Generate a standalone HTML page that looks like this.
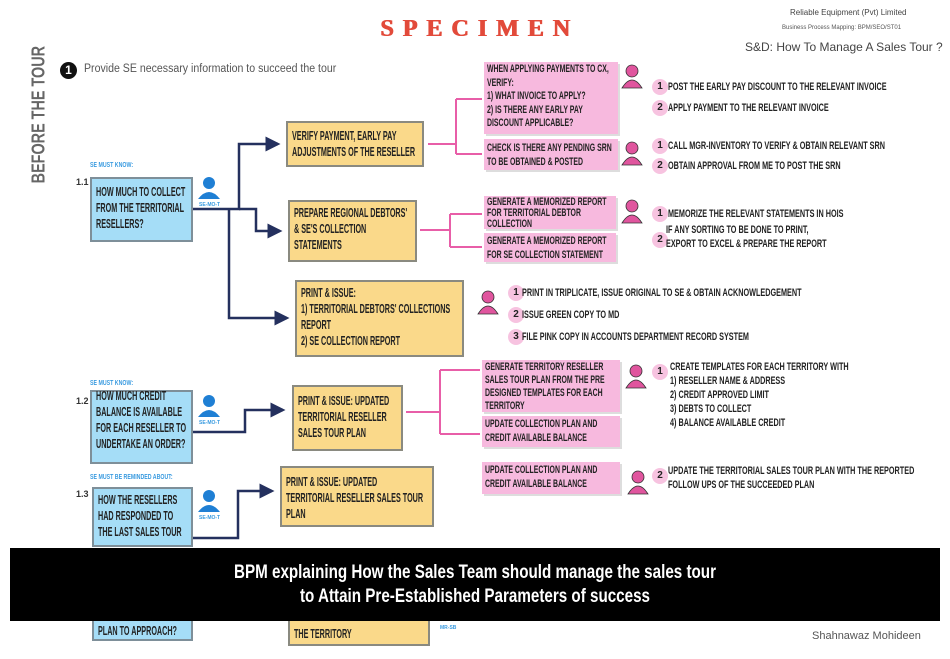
<!DOCTYPE html>
<html><head><meta charset="utf-8"><style>
body{margin:0;width:950px;height:659px;background:#fff;position:relative;overflow:hidden;font-family:"Liberation Sans",sans-serif}
.a{position:absolute}
.t{font-weight:bold;color:#222;font-size:11px;line-height:14px;text-transform:uppercase}
.n{width:180%;transform:scaleX(.555);transform-origin:left top}
.pink .n{width:158%;transform:scaleX(.63)}
.s{white-space:nowrap;transform:scaleX(.66);transform-origin:left top}
.blue{background:#a5ddf7;border:2px solid #7e8f99;box-sizing:border-box;padding:6px 4px}
.yel{background:#fad98a;border:2px solid #8a8a80;box-sizing:border-box;padding:6px 4px}
.pink{background:#f7b9de;box-sizing:border-box;padding:1px 3px;box-shadow:2px 2px 0 #ddd}
.c{width:16px;height:16px;border-radius:50%;background:#f7c3e0;font-size:10px;font-weight:bold;text-align:center;line-height:16px;color:#222}
.lbl{font-size:5px;color:#3a9be0;font-weight:bold}
.st{font-size:7px;color:#3a9be0;font-weight:bold;white-space:nowrap;transform:scaleX(.75);transform-origin:left top}
.big{line-height:16px;font-size:13px}
</style></head><body>
<div class="a" style="left:380px;top:16px;font-family:'Liberation Serif',serif;font-size:24px;font-weight:bold;color:#e24a3a;letter-spacing:9px;text-shadow:1px 0 #e24a3a">SPECIMEN</div>
<div class="a" style="left:790px;top:8px;font-size:8px;color:#444">Reliable Equipment (Pvt) Limited</div>
<div class="a" style="left:782px;top:25px;font-size:6px;color:#555">Business Process Mapping: BPM/SEO/ST01</div>
<div class="a" style="left:745px;top:40px;font-size:12px;color:#444;white-space:nowrap">S&amp;D: How To Manage A Sales Tour ?</div>
<div class="a" style="left:-36px;top:115px;width:150px;transform:rotate(-90deg);font-size:18px;font-weight:bold;color:#666;text-align:center;white-space:nowrap"><span style="display:inline-block;transform:scaleX(.8)">BEFORE THE TOUR</span></div>
<div class="a" style="left:60px;top:62px;width:17px;height:17px;border-radius:50%;background:#111;color:#fff;font-size:12px;font-weight:bold;text-align:center;line-height:17px">1</div>
<div class="a" style="left:84px;top:63px;font-size:11.5px;color:#555;white-space:nowrap;transform:scaleX(.92);transform-origin:left top">Provide SE necessary information to succeed the tour</div>

<svg class="a" style="left:0;top:0" width="950" height="659">
<defs><marker id="ar" markerWidth="6" markerHeight="6" refX="5" refY="3" orient="auto"><path d="M0,0L6,3L0,6z" fill="#24305e"/></marker></defs>
<g fill="none" stroke="#24305e" stroke-width="2.5">
<path d="M193,209H239V144H278" marker-end="url(#ar)"/>
<path d="M239,209H256V231H280" marker-end="url(#ar)"/>
<path d="M229,209V318H287" marker-end="url(#ar)"/>
<path d="M193,432H245V410H283" marker-end="url(#ar)"/>
<path d="M193,538H238V491H272" marker-end="url(#ar)"/>
</g>
<g fill="none" stroke="#e85ea8" stroke-width="2">
<path d="M428,144H456M456,99V154M456,99H482M456,154H482"/>
<path d="M420,230H450M450,214V247M450,214H482M450,247H482"/>
<path d="M406,412H440M440,370V434M440,370H480M440,434H480"/>
</g>
</svg>

<div class="a st" style="left:90px;top:162px">SE MUST KNOW:</div>
<div class="a" style="left:76px;top:177px;font-size:9px;font-weight:bold;color:#333">1.1</div>
<div class="a blue t big" style="left:90px;top:177px;width:103px;height:65px;padding-top:5px"><div class="n">How much to collect from the territorial resellers?</div></div>

<div class="a yel t big" style="left:286px;top:121px;width:138px;height:46px;padding-top:5px"><div class="n">Verify payment, early pay adjustments of the reseller</div></div>
<div class="a yel t big" style="left:288px;top:200px;width:129px;height:62px;padding-top:3px"><div class="n">Prepare regional debtors' &amp; SE's collection statements</div></div>
<div class="a yel t big" style="left:295px;top:280px;width:169px;height:77px;padding-top:3px"><div class="n">Print &amp; issue:<br>1) territorial debtors' collections report<br>2) SE collection report</div></div>

<div class="a pink t" style="left:484px;top:62px;width:134px;height:72px;line-height:13.5px"><div class="n">When applying payments to CX, verify:<br>1) what invoice to apply?<br>2) is there any early pay discount applicable?</div></div>
<div class="a pink t" style="left:484px;top:139px;width:134px;height:31px;padding-top:2px"><div class="n">Check is there any pending SRN to be obtained &amp; posted</div></div>
<div class="a pink t" style="left:484px;top:196px;width:132px;height:33px;line-height:11px"><div class="n">Generate a memorized report for territorial debtor collection</div></div>
<div class="a pink t" style="left:484px;top:233px;width:132px;height:29px"><div class="n">Generate a memorized report for SE collection statement</div></div>

<div class="a pink t" style="left:482px;top:360px;width:138px;height:52px;line-height:13px"><div class="n">Generate territory reseller sales tour plan from the pre designed templates for each territory</div></div>
<div class="a pink t" style="left:482px;top:416px;width:138px;height:31px"><div class="n">Update collection plan and credit available balance</div></div>
<div class="a pink t" style="left:482px;top:462px;width:138px;height:32px"><div class="n">Update collection plan and credit available balance</div></div>

<div class="a st" style="left:90px;top:380px">SE MUST KNOW:</div>
<div class="a" style="left:76px;top:396px;font-size:9px;font-weight:bold;color:#333">1.2</div>
<div class="a blue t big" style="left:90px;top:390px;width:103px;height:74px;padding-top:0"><div class="n" style="margin-top:-4px">How much credit balance is available for each reseller to undertake an order?</div></div>
<div class="a yel t big" style="left:292px;top:385px;width:111px;height:66px"><div class="n">Print &amp; issue: updated territorial reseller sales tour plan</div></div>

<div class="a st" style="left:90px;top:474px">SE MUST BE REMINDED ABOUT:</div>
<div class="a" style="left:76px;top:489px;font-size:9px;font-weight:bold;color:#333">1.3</div>
<div class="a blue t big" style="left:92px;top:487px;width:101px;height:60px;padding-top:3px"><div class="n">How the resellers had responded to the last sales tour</div></div>
<div class="a yel t big" style="left:280px;top:466px;width:154px;height:61px"><div class="n">Print &amp; issue: updated<br>territorial reseller sales tour plan</div></div>

<div class="a blue t big" style="left:92px;top:615px;width:101px;height:26px;padding-top:6px"><div class="n">Plan to approach?</div></div>
<div class="a yel t big" style="left:288px;top:615px;width:142px;height:31px;padding-top:9px"><div class="n">The territory</div></div>
<div class="a lbl" style="left:440px;top:625px">MR-SB</div>
<div class="a" style="left:812px;top:630px;font-size:11px;color:#555">Shahnawaz Mohideen</div>

<svg class="a" style="left:0;top:0" width="950" height="659">
<g fill="#1f7fd4"><circle cx="209" cy="183" r="6"/><path d="M198,199q11-14,22,0z"/>
<circle cx="209" cy="401" r="6"/><path d="M198,417q11-14,22,0z"/>
<circle cx="209" cy="496" r="6"/><path d="M198,512q11-14,22,0z"/></g>
<g fill="#e0559e" stroke="#333" stroke-width="0.8">
<circle cx="632" cy="71" r="6"/><path d="M622,88q10-16,20,0z"/>
<circle cx="632" cy="148" r="6"/><path d="M622,165q10-16,20,0z"/>
<circle cx="632" cy="206" r="6"/><path d="M622,223q10-16,20,0z"/>
<circle cx="488" cy="297" r="6"/><path d="M478,314q10-16,20,0z"/>
<circle cx="636" cy="371" r="6"/><path d="M626,388q10-16,20,0z"/>
<circle cx="638" cy="477" r="6"/><path d="M628,494q10-16,20,0z"/>
</g></svg>
<div class="a lbl" style="left:199px;top:202px">SE-MO-T</div>
<div class="a lbl" style="left:199px;top:420px">SE-MO-T</div>
<div class="a lbl" style="left:199px;top:515px">SE-MO-T</div>

<div class="a c" style="left:652px;top:79px">1</div><div class="a t s" style="left:668px;top:80px">Post the early pay discount to the relevant invoice</div>
<div class="a c" style="left:652px;top:100px">2</div><div class="a t s" style="left:668px;top:101px">Apply payment to the relevant invoice</div>
<div class="a c" style="left:652px;top:138px">1</div><div class="a t s" style="left:668px;top:139px">Call MGR-inventory to verify &amp; obtain relevant SRN</div>
<div class="a c" style="left:652px;top:158px">2</div><div class="a t s" style="left:668px;top:159px">Obtain approval from ME to post the SRN</div>
<div class="a c" style="left:652px;top:206px">1</div><div class="a t s" style="left:668px;top:207px">Memorize the relevant statements in HOIS</div>
<div class="a c" style="left:652px;top:232px">2</div><div class="a t s" style="left:666px;top:223px">If any sorting to be done to print,<br>export to excel &amp; prepare the report</div>
<div class="a c" style="left:508px;top:285px">1</div><div class="a t s" style="left:522px;top:286px">Print in triplicate, issue original to SE &amp; obtain acknowledgement</div>
<div class="a c" style="left:508px;top:307px">2</div><div class="a t s" style="left:522px;top:308px">Issue green copy to MD</div>
<div class="a c" style="left:508px;top:329px">3</div><div class="a t s" style="left:522px;top:330px">File pink copy in accounts department record system</div>
<div class="a c" style="left:652px;top:364px">1</div><div class="a t s" style="left:670px;top:360px">Create templates for each territory with<br>1) reseller name &amp; address<br>2) credit approved limit<br>3) debts to collect<br>4) balance available credit</div>
<div class="a c" style="left:652px;top:468px">2</div><div class="a t s" style="left:668px;top:464px">Update the territorial sales tour plan with the reported<br>follow ups of the succeeded plan</div>

<div class="a" style="left:10px;top:548px;width:930px;height:73px;background:#000;color:#fff;text-align:center;font-size:19px;font-weight:bold;line-height:24px;padding-top:13px;box-sizing:border-box"><div style="transform:scaleX(.8)">BPM explaining How the Sales Team should manage the sales tour<br>to Attain Pre-Established Parameters of success</div></div>
</body></html>
